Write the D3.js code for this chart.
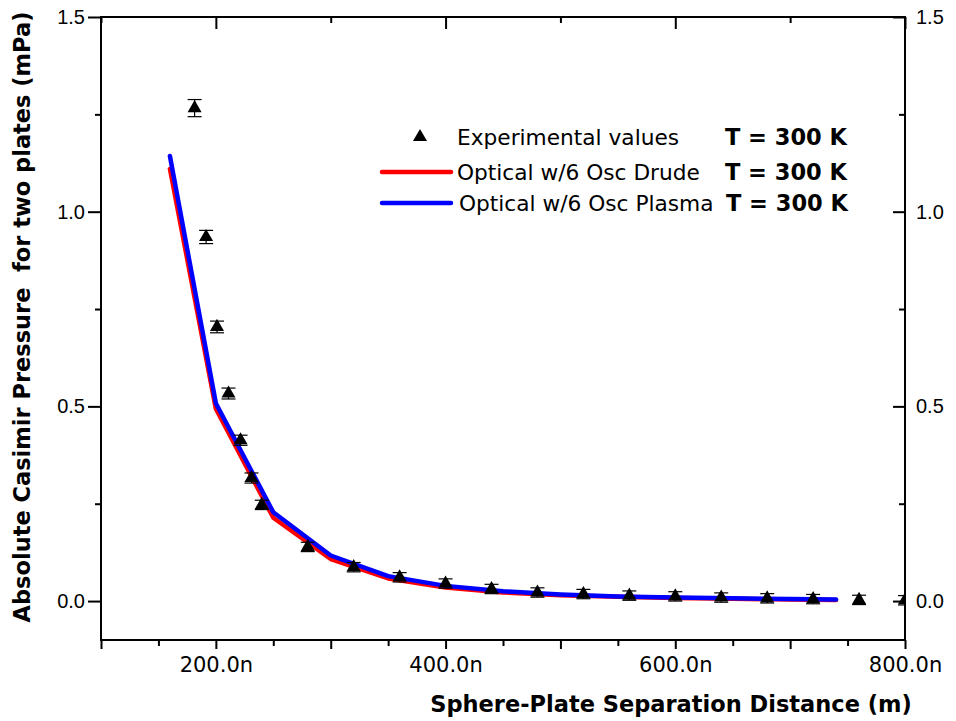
<!DOCTYPE html>
<html lang="en">
<head>
<meta charset="utf-8">
<title>Casimir pressure</title>
<script src="https://d3js.org/d3.v7.min.js"></script>
<style>
  body { margin: 0; background: #fff; }
  .tick-y text { font: 20px "Liberation Sans", Arial, sans-serif; fill: #000; }
  .tick-x text { font: 21px "DejaVu Sans", Verdana, sans-serif; fill: #000; }
  .title { font: bold 22.5px "DejaVu Sans", Verdana, sans-serif; fill: #000; white-space: pre; }
  .legend text { font: 21.7px "DejaVu Sans", Verdana, sans-serif; fill: #000; }
  .legend text.bold { font-weight: bold; font-size: 22.5px; }
</style>
</head>
<body>
<svg width="956" height="721"></svg>
<script>

// separation (nm) and pressure (mPa)
var expX = [181.5, 191.5, 201, 211, 221.5, 231, 240, 280, 320, 360, 400, 440, 480, 520, 560, 600, 640, 680, 720, 760, 800];
var expY = [1.266, 0.935, 0.704, 0.533, 0.413, 0.316, 0.247, 0.139, 0.087, 0.061, 0.045, 0.031, 0.022, 0.018, 0.014, 0.012, 0.009, 0.007, 0.005, 0.003, 0.002];
var expErr = [0.022, 0.017, 0.015, 0.014, 0.013, 0.013, 0.012, 0.012, 0.012, 0.012, 0.012, 0.012, 0.012, 0.012, 0.012, 0.012, 0.012, 0.012, 0.012, 0.012, 0.012];

var theoryX = [160, 200, 250, 300, 350, 400, 450, 500, 550, 600, 650, 700, 740];
var drudeY = [1.110, 0.494, 0.214, 0.108, 0.058, 0.035, 0.022, 0.015, 0.011, 0.008, 0.006, 0.004, 0.003];
var plasmaY = [1.143, 0.508, 0.228, 0.117, 0.064, 0.039, 0.025, 0.017, 0.012, 0.009, 0.007, 0.005, 0.004];

var xTicks = [200, 400, 600, 800];
var yTicks = [0, 0.5, 1.0, 1.5];

var legendRows = [
  {label: "Experimental values", temp: "T = 300 K"},
  {label: "Optical w/6 Osc Drude", temp: "T = 300 K", color: "#ff0000"},
  {label: "Optical w/6 Osc Plasma", temp: "T = 300 K", color: "#0000ff"}
];

var svg = d3.select("svg");
var pLeft = 101, pRight = 905, pTop = 17, pBottom = 640;

var x = d3.scaleLinear().domain([100, 800]).range([pLeft, pRight]);
var y = d3.scaleLinear().domain([-0.1, 1.5]).range([pBottom, pTop]);

svg.append("defs").append("clipPath")
    .attr("id", "clip")
  .append("rect")
    .attr("x", pLeft).attr("y", pTop)
    .attr("width", pRight - pLeft).attr("height", pBottom - pTop);

// bottom axis: long ticks every 100, short every 50, labels every 200
svg.append("g")
    .attr("transform", "translate(0," + pBottom + ")")
    .call(d3.axisBottom(x).tickValues(d3.range(150, 800, 100)).tickSize(6).tickFormat(""))
    .call(g => g.select(".domain").remove())
    .selectAll("line").attr("stroke-width", 2);
svg.append("g")
    .attr("class", "tick-x")
    .attr("transform", "translate(0," + pBottom + ")")
    .call(d3.axisBottom(x).tickValues(d3.range(100, 801, 100)).tickSize(9).tickPadding(8)
      .tickFormat(d => xTicks.indexOf(d) >= 0 ? d.toFixed(1) + "n" : ""))
    .call(g => g.select(".domain").remove())
    .call(g => g.selectAll("line").attr("stroke-width", 2));

// top axis, ticks inward
svg.append("g")
    .attr("transform", "translate(0," + pTop + ")")
    .call(d3.axisTop(x).tickValues(d3.range(100, 801, 100)).tickSize(-6).tickFormat(""))
    .call(g => g.select(".domain").remove())
    .selectAll("line").attr("stroke-width", 2)
    .attr("y2", d => d % 200 == 0 ? 12 : 6);

// left axis, ticks outward
svg.append("g")
    .attr("transform", "translate(" + pLeft + ",0)")
    .call(d3.axisLeft(y).tickValues([0.25, 0.75, 1.25]).tickSize(6).tickFormat(""))
    .call(g => g.select(".domain").remove())
    .selectAll("line").attr("stroke-width", 2);
svg.append("g")
    .attr("class", "tick-y")
    .attr("transform", "translate(" + pLeft + ",0)")
    .call(d3.axisLeft(y).tickValues(yTicks).tickSize(13).tickPadding(3).tickFormat(d3.format(".1f")))
    .call(g => g.select(".domain").remove())
    .call(g => g.selectAll("line").attr("stroke-width", 2));

// right axis, ticks inward
svg.append("g")
    .attr("transform", "translate(" + pRight + ",0)")
    .call(d3.axisRight(y).tickValues([0.25, 0.75, 1.25]).tickSize(-6).tickFormat(""))
    .call(g => g.select(".domain").remove())
    .selectAll("line").attr("stroke-width", 2);
svg.append("g")
    .attr("class", "tick-y")
    .attr("transform", "translate(" + pRight + ",0)")
    .call(d3.axisRight(y).tickValues(yTicks).tickSize(-12).tickPadding(11).tickFormat(d3.format(".1f")))
    .call(g => g.select(".domain").remove())
    .call(g => g.selectAll("line").attr("stroke-width", 2));

// frame
svg.append("rect")
    .attr("x", pLeft).attr("y", pTop)
    .attr("width", pRight - pLeft).attr("height", pBottom - pTop)
    .attr("fill", "none").attr("stroke", "#000").attr("stroke-width", 2);

var plot = svg.append("g").attr("clip-path", "url(#clip)");

var line = d3.line()
    .x(d => x(d[0]))
    .y(d => y(d[1]));

plot.append("path")
    .datum(d3.zip(theoryX, drudeY))
    .attr("d", line)
    .attr("fill", "none").attr("stroke", "#ff0000")
    .attr("stroke-width", 4.5).attr("stroke-linejoin", "round").attr("stroke-linecap", "round");
plot.append("path")
    .datum(d3.zip(theoryX, plasmaY))
    .attr("d", line)
    .attr("fill", "none").attr("stroke", "#0000ff")
    .attr("stroke-width", 4.5).attr("stroke-linejoin", "round").attr("stroke-linecap", "round");

var exp = d3.zip(expX, expY, expErr);

var bars = plot.append("g").attr("stroke", "#000").attr("stroke-width", 1.2);
bars.selectAll(".eb").data(exp).enter().append("line")
    .attr("x1", d => x(d[0])).attr("x2", d => x(d[0]))
    .attr("y1", d => y(d[1] + d[2])).attr("y2", d => y(d[1] - d[2]));
bars.selectAll(".capt").data(exp).enter().append("line")
    .attr("x1", d => x(d[0]) - 7).attr("x2", d => x(d[0]) + 7)
    .attr("y1", d => y(d[1] + d[2])).attr("y2", d => y(d[1] + d[2]));
bars.selectAll(".capb").data(exp).enter().append("line")
    .attr("x1", d => x(d[0]) - 7).attr("x2", d => x(d[0]) + 7)
    .attr("y1", d => y(d[1] - d[2])).attr("y2", d => y(d[1] - d[2]));

var tri = d3.symbol().type(d3.symbolTriangle).size(85);
plot.selectAll(".pt").data(exp).enter().append("path")
    .attr("d", tri)
    .attr("transform", d => "translate(" + x(d[0]) + "," + y(d[1]) + ")")
    .attr("fill", "#000");

// legend
var legend = svg.append("g").attr("class", "legend");
var rowY = [137, 172, 203];
legendRows.forEach(function(r, i) {
  if (r.color) {
    legend.append("line")
        .attr("x1", 382).attr("x2", 451)
        .attr("y1", rowY[i]).attr("y2", rowY[i])
        .attr("stroke", r.color).attr("stroke-width", 4.5).attr("stroke-linecap", "round");
  } else {
    legend.append("path")
        .attr("d", tri)
        .attr("transform", "translate(420," + rowY[i] + ")")
        .attr("fill", "#000");
  }
  legend.append("text")
      .attr("x", i == 2 ? 459 : 457).attr("y", rowY[i] + 8)
      .text(r.label);
  legend.append("text")
      .attr("class", "bold")
      .attr("x", i == 2 ? 848 : 847).attr("y", rowY[i] + 8)
      .attr("text-anchor", "end")
      .text(r.temp);
});

svg.append("text")
    .attr("class", "title")
    .attr("x", 671).attr("y", 712)
    .attr("text-anchor", "middle")
    .text("Sphere-Plate Separation Distance (m)");

svg.append("text")
    .attr("class", "title")
    .attr("transform", "translate(30,317) rotate(-90)")
    .attr("text-anchor", "middle")
    .text("Absolute Casimir Pressure  for two plates (mPa)");

</script>
</body>
</html>
